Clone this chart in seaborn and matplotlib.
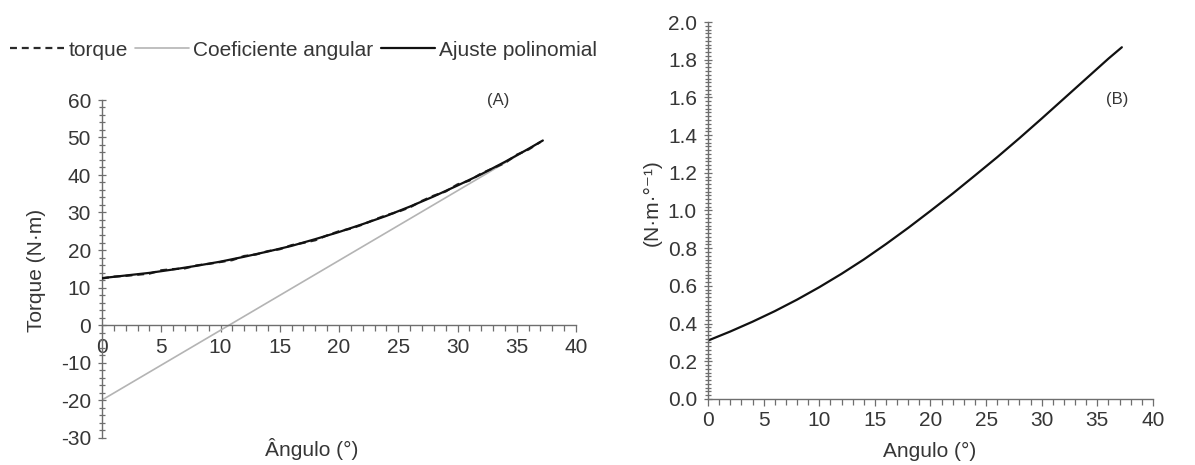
import numpy as np
import pandas as pd
import matplotlib
matplotlib.use("Agg")
import matplotlib.pyplot as plt
from matplotlib.ticker import MultipleLocator, FormatStrFormatter
import seaborn as sns

# ---- data -------------------------------------------------------------
# measured torque (N·m) vs joint angle (degrees)
angle_measured = [0, 1, 2, 3, 4, 5, 6, 7, 8, 9, 10, 11, 12, 13, 14, 15, 16, 17, 18,
                  19, 20, 21, 22, 23, 24, 25, 26, 27, 28, 29, 30, 31, 32, 33, 34,
                  35, 36, 37]
torque_measured = [12.4, 12.9, 13.1, 13.4, 13.7, 14.6, 14.9, 15.1, 15.9, 16.3, 16.8,
                   17.3, 18.4, 18.8, 19.7, 20.2, 21.3, 21.9, 22.6, 23.9, 25.0, 25.7,
                   26.8, 28.1, 29.3, 30.2, 31.4, 33.1, 34.5, 35.6, 37.5, 38.5, 40.4,
                   41.8, 43.2, 45.4, 46.8, 48.8]

# polynomial fit of the torque curve
angle_fit = [0, 2, 4, 6, 8, 10, 12, 14, 16, 18, 20, 22, 24, 26, 28, 30, 32, 34, 36, 37.2]
torque_fit = [12.5, 13.2, 13.9, 14.8, 15.8, 16.9, 18.2, 19.6, 21.1, 22.9, 24.8, 26.9,
              29.1, 31.6, 34.3, 37.2, 40.2, 43.5, 47.0, 49.2]

# tangent (slope) line at the last point of the fit
angle_tangent = [0, 37.2]
torque_tangent = [-20.0, 49.2]

# stiffness: derivative of the fitted curve (N·m·°-1)
stiffness = [0.310, 0.358, 0.410, 0.466, 0.527, 0.593, 0.664, 0.740, 0.822, 0.908,
             0.998, 1.090, 1.186, 1.283, 1.384, 1.488, 1.594, 1.700, 1.806, 1.866]

legend_labels = ["torque", "Coeficiente angular", "Ajuste polinomial"]

# ---- style ------------------------------------------------------------
sns.set_theme(style="white")
plt.rcParams["font.family"] = ["Liberation Sans", "DejaVu Sans"]
plt.rcParams["axes.unicode_minus"] = False
plt.rcParams["lines.scale_dashes"] = False

TEXT = "#363636"
AXIS = "#6e6e6e"
FS = 15

fig = plt.figure(figsize=(11.95, 4.65), dpi=100)
W, H = 1195, 465

def px_axes(x0, x1, y_top, y_bot):
    return fig.add_axes([x0 / W, 1 - y_bot / H, (x1 - x0) / W, (y_bot - y_top) / H])

ax_a = px_axes(102, 576, 100, 437.5)
ax_b = px_axes(708, 1153, 22, 399)

df_meas = pd.DataFrame({"angle": angle_measured, "torque": torque_measured})
df_fit = pd.DataFrame({"angle": angle_fit, "torque": torque_fit, "k": stiffness})
df_tan = pd.DataFrame({"angle": angle_tangent, "torque": torque_tangent})

# ---- panel A ----------------------------------------------------------
sns.lineplot(data=df_tan, x="angle", y="torque", ax=ax_a, color="#b4b4b4",
             linewidth=1.2, label=legend_labels[1], sort=False, zorder=2)
sns.lineplot(data=df_meas, x="angle", y="torque", ax=ax_a, color="#2a2a2a",
             linewidth=1.6, linestyle=(0, (5, 3.5)), label=legend_labels[0],
             sort=False, zorder=3)
sns.lineplot(data=df_fit, x="angle", y="torque", ax=ax_a, color="#111111",
             linewidth=1.6, label=legend_labels[2], sort=False, zorder=4)

ax_a.set_xlim(0, 40)
ax_a.set_ylim(-30, 60)
ax_a.spines["top"].set_visible(False)
ax_a.spines["right"].set_visible(False)
ax_a.spines["bottom"].set_position(("data", 0))
for s in ("left", "bottom"):
    ax_a.spines[s].set_color(AXIS)
    ax_a.spines[s].set_linewidth(1.0)
ax_a.xaxis.set_major_locator(MultipleLocator(5))
ax_a.xaxis.set_minor_locator(MultipleLocator(1))
ax_a.yaxis.set_major_locator(MultipleLocator(10))
ax_a.yaxis.set_minor_locator(MultipleLocator(2))
ax_a.set_xlabel("")
ax_a.set_ylabel("")
ax_a.text(33.4, 60, "(A)", ha="center", va="center", fontsize=12, color=TEXT)

# ---- panel B ----------------------------------------------------------
sns.lineplot(data=df_fit, x="angle", y="k", ax=ax_b, color="#111111",
             linewidth=1.6, sort=False)
ax_b.set_xlim(0, 40)
ax_b.set_ylim(0, 2.0)
ax_b.spines["top"].set_visible(False)
ax_b.spines["right"].set_visible(False)
for s in ("left", "bottom"):
    ax_b.spines[s].set_color(AXIS)
    ax_b.spines[s].set_linewidth(1.0)
ax_b.xaxis.set_major_locator(MultipleLocator(5))
ax_b.xaxis.set_minor_locator(MultipleLocator(1))
ax_b.yaxis.set_major_locator(MultipleLocator(0.2))
ax_b.yaxis.set_minor_locator(MultipleLocator(0.02))
ax_b.yaxis.set_major_formatter(FormatStrFormatter("%.1f"))
ax_b.set_xlabel("")
ax_b.set_ylabel("")
ax_b.text(36.8, 1.59, "(B)", ha="center", va="center", fontsize=12, color=TEXT)

for ax in (ax_a, ax_b):
    ax.set_facecolor("white")
    ax.tick_params(axis="both", which="both", colors=AXIS, labelcolor=TEXT,
                   labelsize=FS, width=0.9)
    ax.tick_params(axis="x", which="major", direction="out", length=5, pad=4)
    ax.tick_params(axis="x", which="minor", direction="out", length=4)
    ax.tick_params(axis="y", which="major", direction="inout", length=6, pad=5)
    ax.tick_params(axis="y", which="minor", direction="inout", length=5)
    ax.tick_params(bottom=True, left=True, which="both")
    if ax.get_legend() is not None:
        ax.get_legend().remove()

# ---- axis titles -------------------------------------------------------
fig.text(312 / W, 1 - 449 / H, "Ângulo (°)", ha="center", va="center",
         fontsize=FS, color=TEXT)
fig.text(36 / W, 1 - 270 / H, "Torque (N·m)", ha="center", va="center",
         rotation=90, fontsize=FS, color=TEXT)
fig.text(930 / W, 1 - 451 / H, "Angulo (°)", ha="center", va="center",
         fontsize=FS, color=TEXT)
fig.text(652 / W, 1 - 203 / H, "(N·m·°⁻¹)", ha="center", va="center",
         rotation=90, fontsize=FS, color=TEXT)

# ---- legend ------------------------------------------------------------
handles, labels = ax_a.get_legend_handles_labels()
order = [labels.index(l) for l in legend_labels]
fig.legend([handles[i] for i in order], [labels[i] for i in order],
           loc="center left", bbox_to_anchor=(10 / W, 1 - 50 / H), ncol=3,
           frameon=False, fontsize=FS, handlelength=2.6, handletextpad=0.2,
           columnspacing=0.35, borderpad=0, borderaxespad=0, labelcolor=TEXT)

fig.savefig("out.png", dpi=100, facecolor="white")
